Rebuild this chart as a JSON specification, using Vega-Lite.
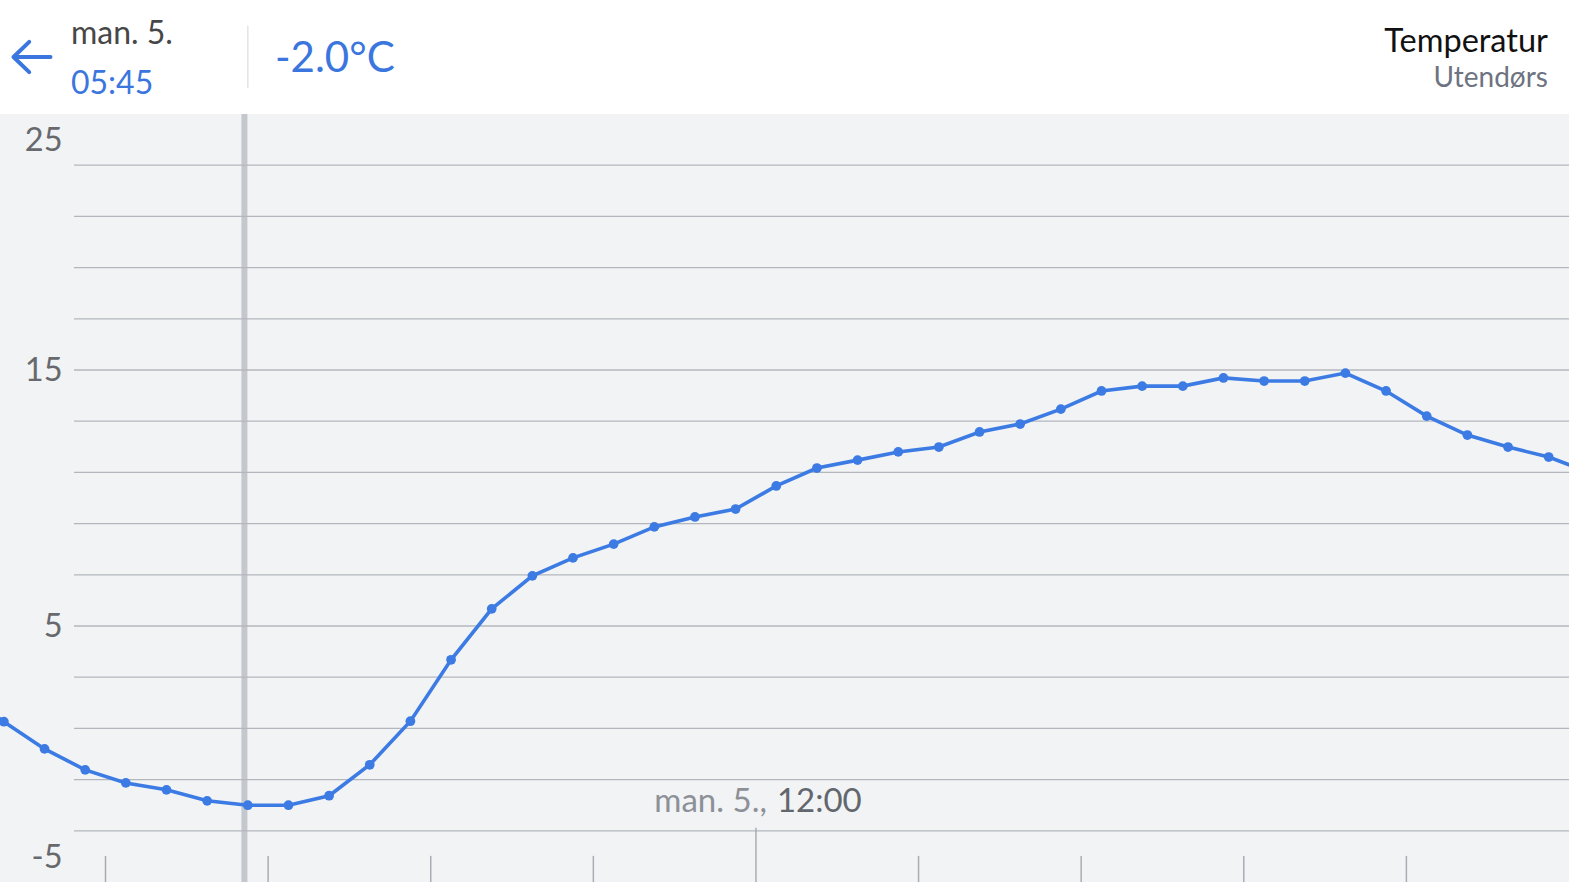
{
  "$schema": "https://vega.github.io/schema/vega-lite/v6.json",
  "padding": 0,
  "spacing": 0,
  "bounds": "flush",
  "background": "white",
  "config": {"view": {"stroke": null}, "font": "Lato", "concat": {"spacing": 0}},
  "vconcat": [
    {
      "width": 1569,
      "height": 114,
      "view": {"fill": "white", "stroke": null},
      "layer": [
        {
          "data": {"values": [{"label": "man. 5.", "row": 1}]},
          "mark": {"type": "text", "align": "left", "baseline": "middle", "fontSize": 32, "color": "#474747", "dy": 5},
          "encoding": {
            "x": {"datum": {"year": 2021, "month": 4, "date": 5, "hours": 3, "minutes": 34, "seconds": 31}, "type": "temporal",
                  "scale": {"domain": [{"year": 2021, "month": 4, "date": 5, "hours": 2, "minutes": 42, "seconds": 8}, {"year": 2021, "month": 4, "date": 5, "hours": 22}], "nice": false}, "axis": null},
            "y": {"field": "row", "type": "quantitative", "scale": {"domain": [0, 4], "reverse": true, "nice": false, "zero": false}, "axis": null},
            "text": {"field": "label"}
          }
        },
        {
          "data": {"values": [{"label": "05:45", "row": 3}]},
          "mark": {"type": "text", "align": "left", "baseline": "middle", "fontSize": 32, "color": "#3a76de", "dy": -2},
          "encoding": {
            "x": {"datum": {"year": 2021, "month": 4, "date": 5, "hours": 3, "minutes": 34, "seconds": 31}, "type": "temporal"},
            "y": {"field": "row", "type": "quantitative"},
            "text": {"field": "label"}
          }
        },
        {
          "data": {"values": [{"label": "-2.0°C", "row": 2}]},
          "mark": {"type": "text", "align": "left", "baseline": "middle", "fontSize": 42, "color": "#3a76de", "dy": 1.5},
          "encoding": {
            "x": {"datum": {"year": 2021, "month": 4, "date": 5, "hours": 6, "minutes": 5, "seconds": 4}, "type": "temporal"},
            "y": {"field": "row", "type": "quantitative"},
            "text": {"field": "label"}
          }
        },
        {
          "data": {"values": [{"label": "Temperatur", "row": 1}]},
          "mark": {"type": "text", "align": "right", "baseline": "middle", "fontSize": 32.5, "color": "#111111", "dy": 13.5},
          "encoding": {
            "x": {"datum": {"year": 2021, "month": 4, "date": 5, "hours": 21, "minutes": 44, "seconds": 26}, "type": "temporal"},
            "y": {"field": "row", "type": "quantitative"},
            "text": {"field": "label"}
          }
        },
        {
          "data": {"values": [{"label": "Utendørs", "row": 3}]},
          "mark": {"type": "text", "align": "right", "baseline": "middle", "fontSize": 28, "color": "#6d7380", "dy": -7},
          "encoding": {
            "x": {"datum": {"year": 2021, "month": 4, "date": 5, "hours": 21, "minutes": 44, "seconds": 26}, "type": "temporal"},
            "y": {"field": "row", "type": "quantitative"},
            "text": {"field": "label"}
          }
        },
        {
          "data": {"values": [{"row": 2}]},
          "mark": {"type": "point", "shape": "M -1 0 L 1 0 M -1 0 L -0.15 -0.82 M -1 0 L -0.15 0.82", "filled": false, "size": 1369, "strokeWidth": 4, "strokeCap": "round", "strokeJoin": "round", "color": "#3a76de", "opacity": 1},
          "encoding": {
            "x": {"datum": {"year": 2021, "month": 4, "date": 5, "hours": 3, "minutes": 5, "seconds": 45}, "type": "temporal"},
            "y": {"field": "row", "type": "quantitative"}
          }
        },
        {
          "data": {"values": [{"t": "2021-04-05T05:45"}]},
          "mark": {"type": "rule", "color": "#e3e4e6", "strokeWidth": 1.5},
          "encoding": {
            "x": {"field": "t", "type": "temporal"},
            "y": {"datum": 0.9},
            "y2": {"datum": 3.1}
          }
        }
      ]
    },
    {
      "width": 1569,
      "height": 768,
      "view": {"fill": "#f1f3f5", "stroke": null},
      "layer": [
        {
          "data": {"values": [{"t": "2021-04-05T05:42:30"}]},
          "mark": {"type": "rule", "color": "#c4c7cc", "strokeWidth": 6},
          "encoding": {
            "x": {"field": "t", "type": "temporal",
                  "scale": {"domain": [{"year": 2021, "month": 4, "date": 5, "hours": 2, "minutes": 42, "seconds": 8}, {"year": 2021, "month": 4, "date": 5, "hours": 22}], "nice": false}, "axis": null}
          }
        },
        {
          "data": {"values": [{"v": -3}, {"v": -1}, {"v": 1}, {"v": 3}, {"v": 5}, {"v": 7}, {"v": 9}, {"v": 11}, {"v": 13}, {"v": 15}, {"v": 17}, {"v": 19}, {"v": 21}, {"v": 23}]},
          "mark": {"type": "rule", "color": "#b3b7bd", "strokeWidth": 1.3},
          "encoding": {
            "y": {"field": "v", "type": "quantitative",
                  "scale": {"domain": [-5, 25], "nice": false, "zero": false},
                  "axis": {"orient": "left", "offset": -70, "values": [-5, 5, 15, 25], "grid": false, "domain": false, "ticks": false, "tickSize": 0, "labelPadding": 8, "title": null,
                           "labelExpr": "datum.value + ''",
                           "labelFontSize": 32.5, "labelColor": "#67696d", "labelFont": "Lato", "labelBaseline": "middle",
                           "labelOffset": {"condition": [{"test": "datum.value == 25", "value": 26}, {"test": "datum.value == -5", "value": -25}], "value": 0}}},
            "x": {"datum": {"year": 2021, "month": 4, "date": 5, "hours": 3, "minutes": 36, "seconds": 43}, "type": "temporal"},
            "x2": {"datum": {"year": 2021, "month": 4, "date": 5, "hours": 22}}
          }
        },
        {
          "data": {"values": [{"t": "2021-04-05T04:00"}, {"t": "2021-04-05T06:00"}, {"t": "2021-04-05T08:00"}, {"t": "2021-04-05T10:00"}, {"t": "2021-04-05T14:00"}, {"t": "2021-04-05T16:00"}, {"t": "2021-04-05T18:00"}, {"t": "2021-04-05T20:00"}]},
          "mark": {"type": "rule", "color": "#a9adb3", "strokeWidth": 1.5},
          "encoding": {
            "x": {"field": "t", "type": "temporal"},
            "y": {"datum": -5},
            "y2": {"datum": -3.98}
          }
        },
        {
          "data": {"values": [{"t": "2021-04-05T12:00", "a": "man. 5.,", "b": "12:00"}]},
          "layer": [
            {
              "mark": {"type": "rule", "color": "#a9adb3", "strokeWidth": 1.5},
              "encoding": {"x": {"field": "t", "type": "temporal"}, "y": {"datum": -5}, "y2": {"datum": -2.88}}
            },
            {
              "mark": {"type": "text", "align": "right", "baseline": "middle", "fontSize": 33, "color": "#8d9096", "dx": 11},
              "encoding": {"x": {"field": "t", "type": "temporal"}, "y": {"datum": -1.87}, "text": {"field": "a"}}
            },
            {
              "mark": {"type": "text", "align": "left", "baseline": "middle", "fontSize": 33, "color": "#62666d", "dx": 21},
              "encoding": {"x": {"field": "t", "type": "temporal"}, "y": {"datum": -1.87}, "text": {"field": "b"}}
            }
          ]
        },
        {
          "data": {"values": [
            {"t": "2021-04-05T02:15", "v": 2.4},
            {"t": "2021-04-05T02:45", "v": 1.26},
            {"t": "2021-04-05T03:15", "v": 0.2},
            {"t": "2021-04-05T03:45", "v": -0.62},
            {"t": "2021-04-05T04:15", "v": -1.13},
            {"t": "2021-04-05T04:45", "v": -1.4},
            {"t": "2021-04-05T05:15", "v": -1.83},
            {"t": "2021-04-05T05:45", "v": -2.0},
            {"t": "2021-04-05T06:15", "v": -2.0},
            {"t": "2021-04-05T06:45", "v": -1.63},
            {"t": "2021-04-05T07:15", "v": -0.42},
            {"t": "2021-04-05T07:45", "v": 1.28},
            {"t": "2021-04-05T08:15", "v": 3.68},
            {"t": "2021-04-05T08:45", "v": 5.67},
            {"t": "2021-04-05T09:15", "v": 6.96},
            {"t": "2021-04-05T09:45", "v": 7.66},
            {"t": "2021-04-05T10:15", "v": 8.2},
            {"t": "2021-04-05T10:45", "v": 8.87},
            {"t": "2021-04-05T11:15", "v": 9.26},
            {"t": "2021-04-05T11:45", "v": 9.57},
            {"t": "2021-04-05T12:15", "v": 10.47},
            {"t": "2021-04-05T12:45", "v": 11.17},
            {"t": "2021-04-05T13:15", "v": 11.48},
            {"t": "2021-04-05T13:45", "v": 11.8},
            {"t": "2021-04-05T14:15", "v": 11.99},
            {"t": "2021-04-05T14:45", "v": 12.58},
            {"t": "2021-04-05T15:15", "v": 12.89},
            {"t": "2021-04-05T15:45", "v": 13.47},
            {"t": "2021-04-05T16:15", "v": 14.18},
            {"t": "2021-04-05T16:45", "v": 14.37},
            {"t": "2021-04-05T17:15", "v": 14.37},
            {"t": "2021-04-05T17:45", "v": 14.69},
            {"t": "2021-04-05T18:15", "v": 14.57},
            {"t": "2021-04-05T18:45", "v": 14.57},
            {"t": "2021-04-05T19:15", "v": 14.88},
            {"t": "2021-04-05T19:45", "v": 14.18},
            {"t": "2021-04-05T20:15", "v": 13.2},
            {"t": "2021-04-05T20:45", "v": 12.46},
            {"t": "2021-04-05T21:15", "v": 11.99},
            {"t": "2021-04-05T21:45", "v": 11.6},
            {"t": "2021-04-05T22:15", "v": 11.0}
          ]},
          "layer": [
            {
              "mark": {"type": "line", "color": "#3c7be3", "strokeWidth": 3.6, "clip": true},
              "encoding": {"x": {"field": "t", "type": "temporal"}, "y": {"field": "v", "type": "quantitative"}}
            },
            {
              "mark": {"type": "point", "filled": true, "size": 95, "color": "#3c7be3", "opacity": 1, "clip": true},
              "encoding": {"x": {"field": "t", "type": "temporal"}, "y": {"field": "v", "type": "quantitative"}}
            }
          ]
        }
      ]
    }
  ]
}
